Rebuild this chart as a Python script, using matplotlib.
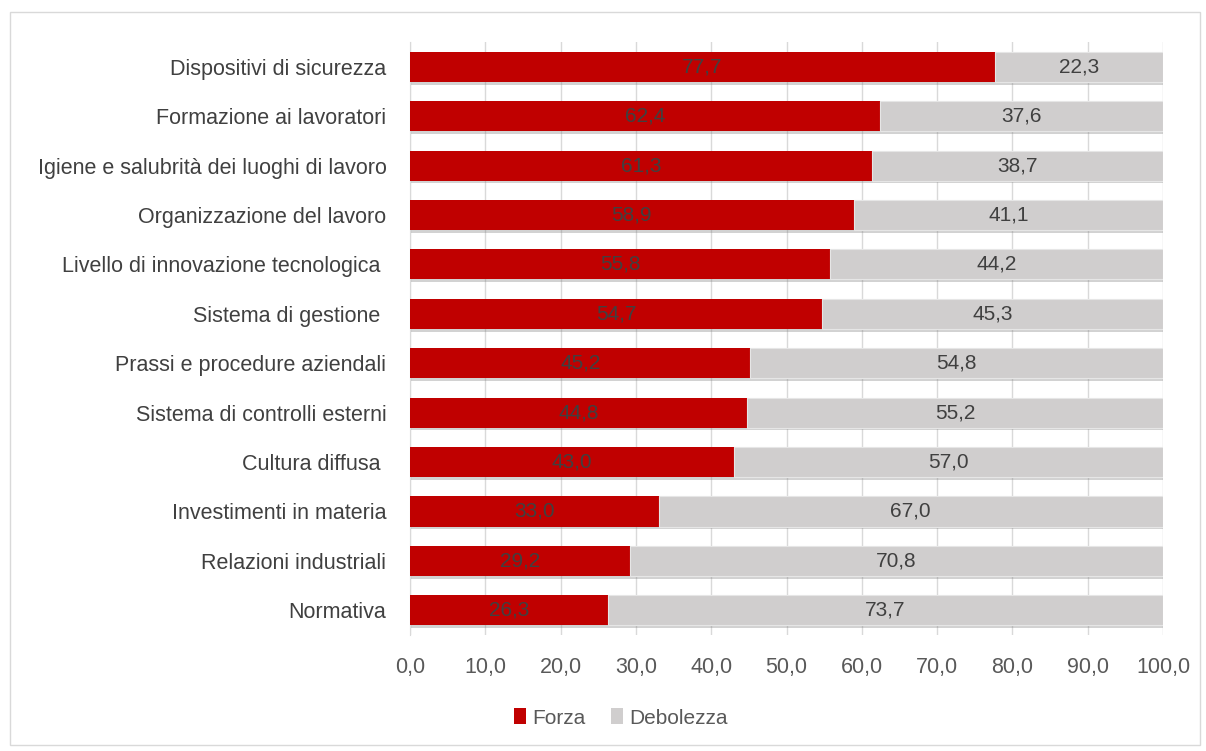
import numpy as np
import matplotlib.pyplot as plt
import matplotlib.patheffects as pe
from matplotlib.patches import Rectangle, Patch

# Categories (top to bottom) and values
categorie = ["Dispositivi di sicurezza", "Formazione ai lavoratori",
             "Igiene e salubrità dei luoghi di lavoro", "Organizzazione del lavoro",
             "Livello di innovazione tecnologica ", "Sistema di gestione ",
             "Prassi e procedure aziendali", "Sistema di controlli esterni",
             "Cultura diffusa ", "Investimenti in materia",
             "Relazioni industriali", "Normativa"]
forza = [77.7, 62.4, 61.3, 58.9, 55.8, 54.7, 45.2, 44.8, 43.0, 33.0, 29.2, 26.3]
debolezza = [22.3, 37.6, 38.7, 41.1, 44.2, 45.3, 54.8, 55.2, 57.0, 67.0, 70.8, 73.7]
xticks = [0, 10, 20, 30, 40, 50, 60, 70, 80, 90, 100]

plt.rcParams["font.family"] = ["Liberation Sans", "DejaVu Sans"]

fig = plt.figure(figsize=(12.06, 7.51), dpi=100)
ax = fig.add_axes([0.340, 0.1545, 0.6244, 0.7895])

# Light border around whole chart
fig.patches.append(Rectangle((0.008, 0.008), 0.987, 0.976, transform=fig.transFigure,
                             fill=False, edgecolor="#d9d9d9", linewidth=1))

y = np.arange(len(categorie))
h = 0.61
red = "#c00000"
grey = "#d0cece"
shadow = [pe.SimplePatchShadow(offset=(1, -2), shadow_rgbFace="#808080", alpha=0.35), pe.Normal()]

b1 = ax.barh(y, forza, height=h, color=red, zorder=3)
b2 = ax.barh(y, debolezza, left=forza, height=h, color=grey,
             edgecolor="#e6e6e6", linewidth=0.8, zorder=3)
for p in list(b1) + list(b2):
    p.set_path_effects(shadow)

for i in range(len(categorie)):
    ax.text(forza[i] / 2, y[i], f"{forza[i]:.1f}".replace(".", ","),
            ha="center", va="center", fontsize=15, color="#404040", zorder=4)
    ax.text(forza[i] + debolezza[i] / 2, y[i], f"{debolezza[i]:.1f}".replace(".", ","),
            ha="center", va="center", fontsize=15, color="#404040", zorder=4)

ax.set_xlim(0, 100)
ax.set_ylim(len(categorie) - 0.5, -0.5)
ax.set_yticks(y)
ax.set_yticklabels(categorie, fontsize=15.5, color="#404040")
ax.set_xticks(xticks)
ax.set_xticklabels([f"{v:.1f}".replace(".", ",") for v in xticks], fontsize=15.5, color="#595959")
ax.tick_params(axis="both", length=0)
ax.tick_params(axis="x", pad=16)
ax.tick_params(axis="y", pad=17)
ax.grid(axis="x", color="#d9d9d9", linewidth=1, zorder=0)
for s in ["top", "right", "bottom"]:
    ax.spines[s].set_visible(False)
ax.spines["left"].set_color("#d9d9d9")

handles = [Patch(facecolor=red), Patch(facecolor=grey)]
leg = fig.legend(handles, ["Forza", "Debolezza"], loc="center", bbox_to_anchor=(0.515, 0.044),
                 ncol=2, frameon=False, fontsize=15, handlelength=0.6, handleheight=0.8,
                 handletextpad=0.3, columnspacing=1.2)
for t in leg.get_texts():
    t.set_color("#595959")

fig.savefig("out.png", dpi=100)
